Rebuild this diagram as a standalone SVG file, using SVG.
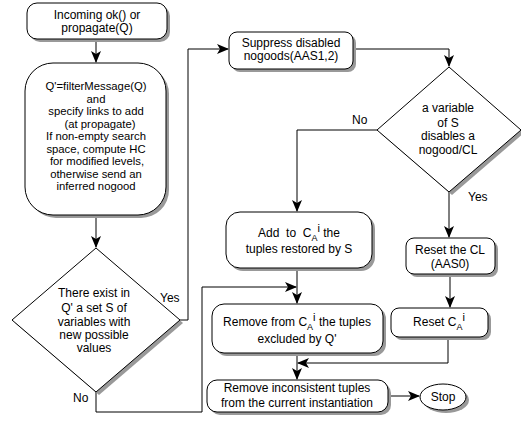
<svg xmlns="http://www.w3.org/2000/svg" width="521" height="423" viewBox="0 0 521 423">
<style>
text{font-family:"Liberation Sans",Arial,sans-serif;font-size:12px;fill:#000;text-anchor:middle}
.lbl{text-anchor:start}
.sm{font-size:11.3px}
.box{fill:#fff;stroke:#000;stroke-width:1}
.sh{fill:#999;stroke:none}
.ln{fill:none;stroke:#000;stroke-width:1}
.sub{font-size:9px}
.sup{font-size:11px}
</style>
<defs>
<marker id="ah" markerWidth="12" markerHeight="10" refX="11" refY="5" orient="auto" markerUnits="userSpaceOnUse">
<path d="M0,0 L12,5 L0,10 L3,5 Z" fill="#000"/>
</marker>
</defs>
<rect width="521" height="423" fill="#fff"/>

<g id="connectors">
<path class="ln" d="M96,39 V62" marker-end="url(#ah)"/>
<path class="ln" d="M96,215 V247" marker-end="url(#ah)"/>
<path class="ln" d="M180,320 H188 V49 H228" marker-end="url(#ah)"/>
<path class="ln" d="M353,49 H449 V66" marker-end="url(#ah)"/>
<path class="ln" d="M377,130 H297 V211" marker-end="url(#ah)"/>
<path class="ln" d="M449,192 V237" marker-end="url(#ah)"/>
<path class="ln" d="M297,268 V303" marker-end="url(#ah)"/>
<path class="ln" d="M96,392 V412 H202 V287 H296" marker-end="url(#ah)"/>
<path class="ln" d="M450,275 V307" marker-end="url(#ah)"/>
<path class="ln" d="M448,337 V363 H298" marker-end="url(#ah)"/>
<path class="ln" d="M297,353 V379" marker-end="url(#ah)"/>
<path class="ln" d="M388,396 H419" marker-end="url(#ah)"/>
<text class="lbl" x="160" y="302">Yes</text>
<text class="lbl" x="73" y="402">No</text>
<text class="lbl" x="352" y="124">No</text>
<text class="lbl" x="468" y="201">Yes</text>
</g>

<g id="start">
<rect class="sh" x="30" y="6" width="140" height="36" rx="10"/>
<rect class="box" x="27" y="3" width="140" height="36" rx="10"/>
<text x="97" y="19">Incoming ok() or</text>
<text x="97" y="32">propagate(Q)</text>
</g>

<g id="filter">
<rect class="sh" x="28" y="66" width="141" height="152" rx="28"/>
<rect class="box" x="25" y="63" width="141" height="152" rx="28"/>
<text class="sm" x="96" y="90">Q'=filterMessage(Q)</text>
<text class="sm" x="96" y="102.5">and</text>
<text class="sm" x="96" y="115">specify links to add</text>
<text class="sm" x="100" y="127.5">(at propagate)</text>
<text class="sm" x="96" y="140">If non-empty search</text>
<text class="sm" x="96" y="152.5">space, compute HC</text>
<text class="sm" x="97" y="165">for modified levels,</text>
<text class="sm" x="96" y="177.5">otherwise send an</text>
<text class="sm" x="96" y="190">inferred nogood</text>
</g>

<g id="decision1">
<polygon class="sh" points="99,251 183,323 99,395 15,323"/>
<polygon class="box" points="96,248 180,320 96,392 12,320"/>
<text x="94" y="297">There exist in</text>
<text x="94" y="312">Q' a set S of</text>
<text x="94" y="326">variables with</text>
<text x="94" y="339">new possible</text>
<text x="94" y="352">values</text>
</g>

<g id="suppress">
<rect class="sh" x="232" y="35" width="124" height="37" rx="8"/>
<rect class="box" x="229" y="32" width="124" height="37" rx="8"/>
<text x="291" y="47">Suppress disabled</text>
<text x="291" y="60">nogoods(AAS1,2)</text>
</g>

<g id="decision2">
<polygon class="sh" points="452,70 524,133 452,195 380,133"/>
<polygon class="box" points="449,67 521,130 449,192 377,130"/>
<text x="448" y="112">a variable</text>
<text x="448" y="127">of S</text>
<text x="448" y="140">disables a</text>
<text x="448" y="154">nogood/CL</text>
</g>

<g id="add">
<rect class="sh" x="229" y="215" width="146" height="56" rx="14"/>
<rect class="box" x="226" y="212" width="146" height="56" rx="14"/>
<text x="299" y="237">Add&#160; to&#160; C<tspan class="sub" dy="4">A</tspan><tspan class="sup" dy="-9">i</tspan><tspan dy="5"> the</tspan></text>
<text x="299" y="253">tuples restored by S</text>
</g>

<g id="resetcl">
<rect class="sh" x="409" y="241" width="89" height="36" rx="8"/>
<rect class="box" x="406" y="238" width="89" height="36" rx="8"/>
<text x="450" y="254">Reset the CL</text>
<text x="450" y="268">(AAS0)</text>
</g>

<g id="remove">
<rect class="sh" x="215" y="307" width="171" height="49" rx="12"/>
<rect class="box" x="212" y="304" width="171" height="49" rx="12"/>
<text x="297" y="326">Remove from C<tspan class="sub" dy="4">A</tspan><tspan class="sup" dy="-9">i</tspan><tspan dy="5"> the tuples</tspan></text>
<text x="297" y="343">excluded by Q'</text>
</g>

<g id="resetc">
<rect class="sh" x="394" y="311" width="97" height="29" rx="8"/>
<rect class="box" x="391" y="308" width="97" height="29" rx="8"/>
<text x="439" y="326">Reset C<tspan class="sub" dy="4">A</tspan><tspan class="sup" dy="-9">i</tspan></text>
</g>

<g id="removeinc">
<rect class="sh" x="210" y="383" width="181" height="32" rx="10"/>
<rect class="box" x="207" y="380" width="181" height="32" rx="10"/>
<text x="297" y="392">Remove inconsistent tuples</text>
<text x="297" y="407">from the current instantiation</text>
</g>

<g id="stop">
<ellipse class="sh" cx="446" cy="400" rx="23" ry="13"/>
<ellipse class="box" cx="443" cy="397" rx="23" ry="13"/>
<text x="443" y="401">Stop</text>
</g>
</svg>
